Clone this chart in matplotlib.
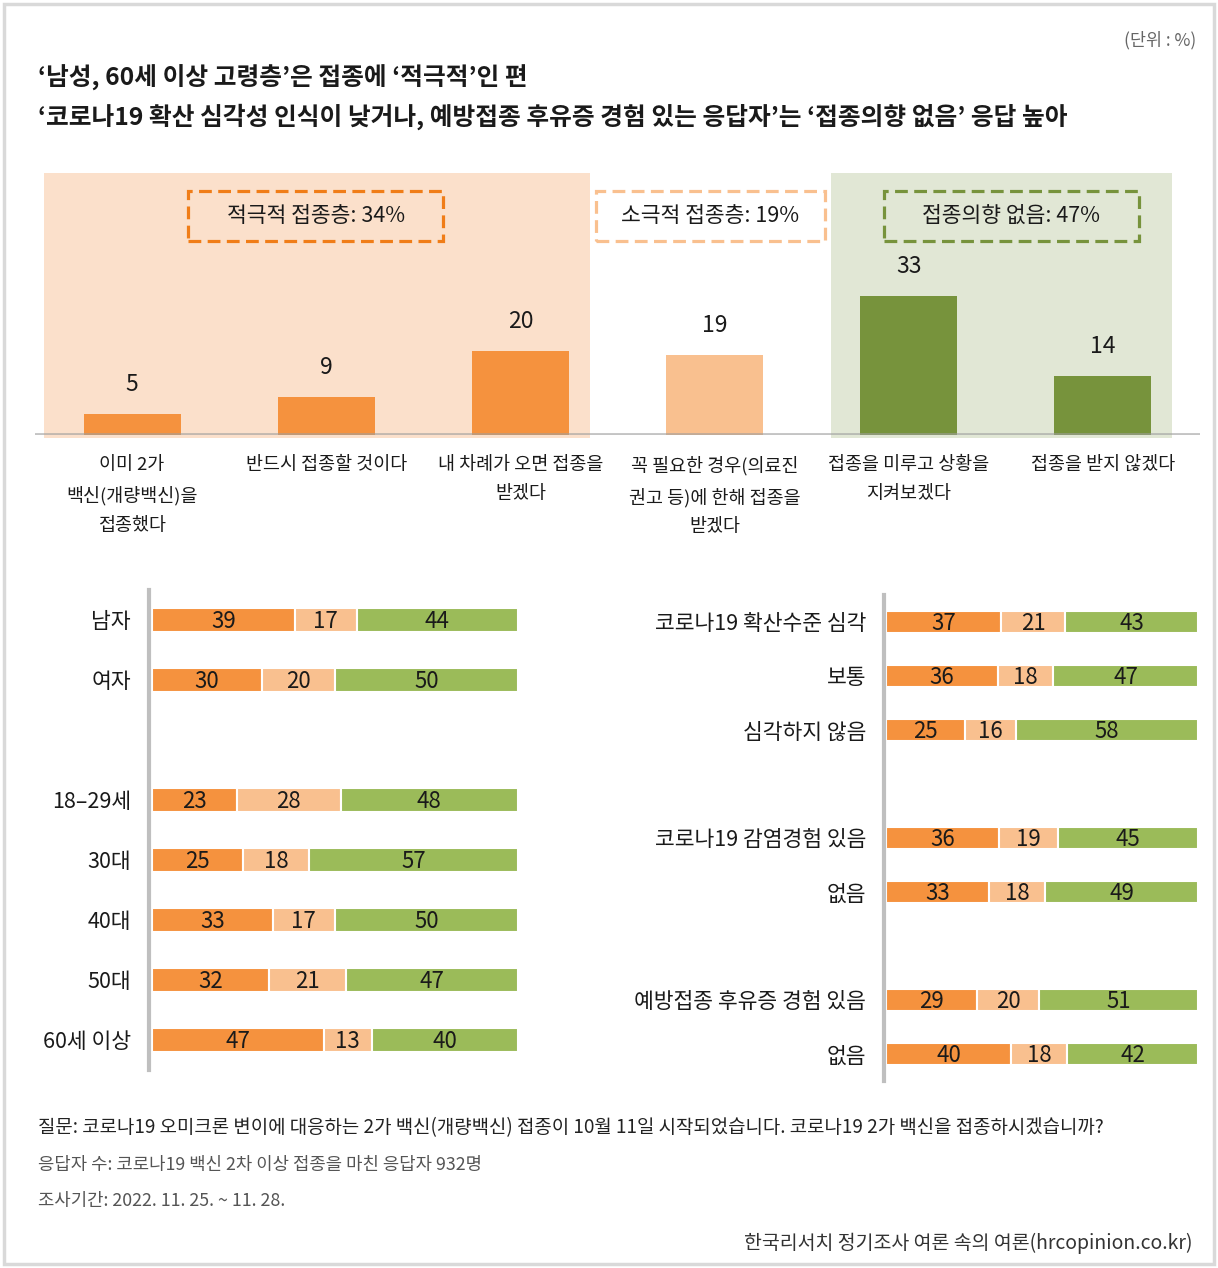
import matplotlib
matplotlib.use("Agg")
import matplotlib.pyplot as plt
from matplotlib.patches import Rectangle

plt.rcParams['font.family'] = ['Noto Sans CJK KR', 'DejaVu Sans']

# top chart data
top_labels = ["이미 2가\n백신(개량백신)을\n접종했다", "반드시 접종할 것이다", "내 차례가 오면 접종을\n받겠다",
              "꼭 필요한 경우(의료진\n권고 등)에 한해 접종을\n받겠다", "접종을 미루고 상황을\n지켜보겠다", "접종을 받지 않겠다"]
top_values = [5, 9, 20, 19, 33, 14]
group_titles = ["적극적 접종층: 34%", "소극적 접종층: 19%", "접종의향 없음: 47%"]

# bottom left
left_labels = ["남자", "여자", "18–29세", "30대", "40대", "50대", "60세 이상"]
left_active = [39, 30, 23, 25, 33, 32, 47]
left_passive = [17, 20, 28, 18, 17, 21, 13]
left_none = [44, 50, 48, 57, 50, 47, 40]

# bottom right
right_labels = ["코로나19 확산수준 심각", "보통", "심각하지 않음", "코로나19 감염경험 있음", "없음",
                "예방접종 후유증 경험 있음", "없음"]
right_active = [37, 36, 25, 36, 33, 29, 40]
right_passive = [21, 18, 16, 19, 18, 20, 18]
right_none = [43, 47, 58, 45, 49, 51, 42]

ORANGE = "#F5923E"
LORANGE = "#F9C08F"
GREEN = "#9BBB59"
DGREEN = "#77933C"
TXT = "#1a1a1a"

W, H = 1218, 1268
fig = plt.figure(figsize=(W / 100, H / 100), dpi=100)


def ax_px(l, t, r, b):
    return fig.add_axes([l / W, 1 - b / H, (r - l) / W, (b - t) / H])


def ftext(x, y, s, **kw):
    return fig.text(x / W, 1 - y / H, s, **kw)


# border
fig.patches.append(Rectangle((4 / W, 4 / H), 1 - 8 / W, 1 - 8 / H, transform=fig.transFigure,
                             fill=False, ec="#D9D9D9", lw=2.5))

ftext(1196, 40, "(단위 : %)", ha="right", va="center", fontsize=12.5, color="#666666")
ftext(38, 78, "‘남성, 60세 이상 고령층’은 접종에 ‘적극적’인 편", fontsize=17.8, fontweight="bold",
      va="center", color=TXT)
ftext(38, 117, "‘코로나19 확산 심각성 인식이 낮거나, 예방접종 후유증 경험 있는 응답자’는 ‘접종의향 없음’ 응답 높아",
      fontsize=17.8, fontweight="bold", va="center", color=TXT)

# ---- top bar chart
ax = ax_px(35, 173, 1200, 435)
ax.set_xlim(-0.5, 5.5)
ax.set_ylim(0, 62.2)
ax.axis("off")
ax.add_patch(Rectangle((-0.454, -0.7), 2.81, 62.9, fc="#FBE0CB", ec="none", zorder=0, clip_on=False))
ax.add_patch(Rectangle((3.598, -0.7), 1.758, 62.9, fc="#E1E7D5", ec="none", zorder=0, clip_on=False))
bar_colors = [ORANGE, ORANGE, ORANGE, LORANGE, DGREEN, DGREEN]
x = list(range(len(top_values)))
ax.bar(x, top_values, width=0.5, color=bar_colors, zorder=2)
ax.axhline(0, color="#9E9E9E", lw=3.5, alpha=0.6, zorder=3, xmin=0, xmax=0.998)
for i, v in enumerate(top_values):
    ax.text(i, v + 7, str(v), ha="center", va="center", fontsize=16.5, color=TXT)
for i, lab in enumerate(top_labels):
    ax.text(i, -5.0, lab, ha="center", va="top", fontsize=13.3, color=TXT, linespacing=1.78, clip_on=False)

boxes = [(0.289, 1.603, "#F07D18"), (2.387, 3.567, LORANGE), (3.871, 5.186, DGREEN)]
for (x0, x1, c), t in zip(boxes, group_titles):
    ax.add_patch(Rectangle((x0, 46.1), x1 - x0, 11.86, fill=False, ec=c, lw=2.3,
                           ls=(0, (4, 2)), zorder=4, clip_on=False))
    ax.text((x0 + x1) / 2, 52.0, t, ha="center", va="center", fontsize=15.5, color=TXT, zorder=5)


def stacked(axs, slots, labels, a, p, n, nslots, h):
    axs.set_xlim(-0.8, 100)
    axs.set_ylim(nslots - 0.5, -0.5)
    for s in ["top", "right", "bottom"]:
        axs.spines[s].set_visible(False)
    axs.spines["left"].set_color("#BFBFBF")
    axs.spines["left"].set_linewidth(3)
    axs.set_xticks([])
    axs.set_yticks(slots)
    axs.set_yticklabels(labels, fontsize=15.5, color=TXT)
    axs.tick_params(axis="y", length=0, pad=13)
    totals = [x + y + z for x, y, z in zip(a, p, n)]
    left = [0] * len(a)
    for vals, c in [(a, ORANGE), (p, LORANGE), (n, GREEN)]:
        widths = [v * 100 / t for v, t in zip(vals, totals)]
        axs.barh(slots, widths, left=left, height=h, color=c, edgecolor="white", linewidth=1.5)
        for y, l, w, v in zip(slots, left, widths, vals):
            axs.text(l + w / 2, y + 0.02, str(v), ha="center", va="center", fontsize=16, color=TXT)
        left = [l + w for l, w in zip(left, widths)]


axl = ax_px(149, 590, 518, 1070)
stacked(axl, [0, 1, 3, 4, 5, 6, 7], left_labels, left_active, left_passive, left_none, 8, 0.4)
axr = ax_px(884, 595, 1198, 1081)
stacked(axr, [0, 1, 2, 4, 5, 7, 8], right_labels, right_active, right_passive, right_none, 9, 0.4)

ftext(38, 1128, "질문: 코로나19 오미크론 변이에 대응하는 2가 백신(개량백신) 접종이 10월 11일 시작되었습니다. 코로나19 2가 백신을 접종하시겠습니까?",
      fontsize=13.6, va="center", color="#222222")
ftext(38, 1165, "응답자 수: 코로나19 백신 2차 이상 접종을 마친 응답자 932명", fontsize=12.8, va="center", color="#555555")
ftext(38, 1201, "조사기간: 2022. 11. 25. ~ 11. 28.", fontsize=12.8, va="center", color="#555555")
ftext(1192, 1243, "한국리서치 정기조사 여론 속의 여론(hrcopinion.co.kr)", fontsize=14, ha="right",
      va="center", color="#333333")

fig.savefig("out.png", dpi=100)
